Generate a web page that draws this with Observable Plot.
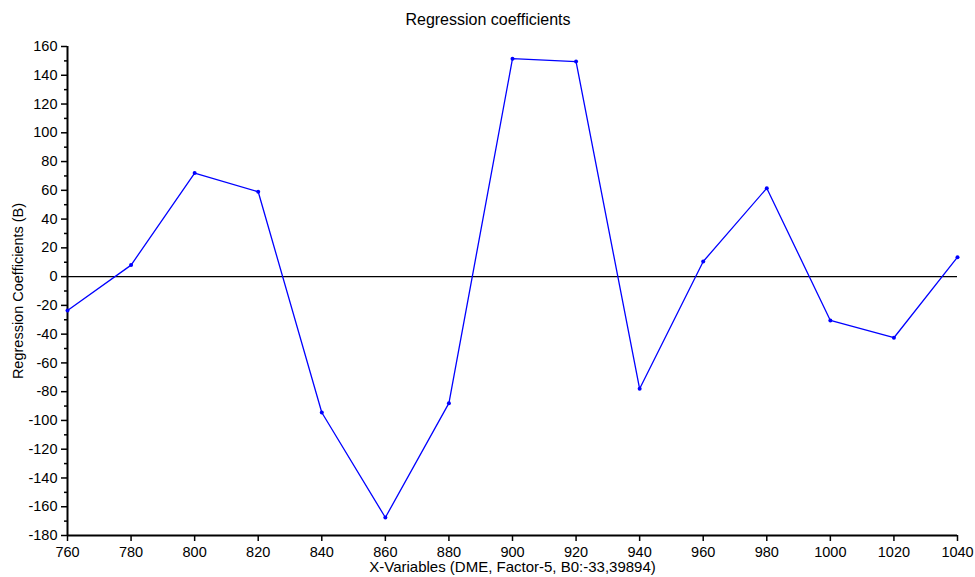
<!DOCTYPE html>
<html>
<head>
<meta charset="utf-8">
<script src="https://cdn.jsdelivr.net/npm/d3@7"></script>
<script src="https://cdn.jsdelivr.net/npm/@observablehq/plot@0.6"></script>
<style>
  html, body { margin: 0; padding: 0; background: #fff; }
  #chart svg { display: block; }
</style>
</head>
<body>
<div id="chart"></div>
<script>
const titleText = "Regression coefficients";
const xLabel = "X-Variables (DME, Factor-5, B0:-33,39894)";
const yLabel = "Regression Coefficients (B)";

const wavelengths = [760, 780, 800, 820, 840, 860, 880, 900, 920, 940, 960, 980, 1000, 1020, 1040];
const coefficients = [-23.5, 8, 72, 59, -94.5, -167.5, -88, 151.5, 149.5, -78, 10.5, 61.5, -30.5, -42.5, 13.5];

const xTicks = [760, 780, 800, 820, 840, 860, 880, 900, 920, 940, 960, 980, 1000, 1020, 1040];
const yTicks = [-180, -160, -140, -120, -100, -80, -60, -40, -20, 0, 20, 40, 60, 80, 100, 120, 140, 160];
const yMinorTicks = [-170, -150, -130, -110, -90, -70, -50, -30, -10, 10, 30, 50, 70, 90, 110, 130, 150];

const data = wavelengths.map((x, i) => ({x, y: coefficients[i]}));

const font = "Liberation Sans, Arial, sans-serif";
const fmt = d => String(d);

const chart = Plot.plot({
  width: 975,
  height: 577,
  marginLeft: 67,
  marginRight: 18,
  marginTop: 46,
  marginBottom: 42,
  style: {fontFamily: font, fontSize: "14.5px", color: "#000", background: "#fff"},
  x: {domain: [760, 1040], label: null},
  y: {domain: [-180, 160], label: null},
  marks: [
    Plot.axisY(yMinorTicks, {tickSize: 3, tickFormat: () => "", strokeWidth: 1.5}),
    Plot.axisY(yTicks, {tickSize: 6, tickPadding: 4, strokeWidth: 1.5, fontSize: 14.5, tickFormat: fmt}),
    Plot.axisX(xTicks, {tickSize: 6, tickPadding: 5, strokeWidth: 1.5, fontSize: 14.5, tickFormat: fmt}),
    Plot.ruleX([760], {stroke: "#000", strokeWidth: 2}),
    Plot.ruleY([-180], {stroke: "#000", strokeWidth: 2}),
    Plot.ruleY([0], {stroke: "#000", strokeWidth: 1.3}),
    Plot.line(data, {x: "x", y: "y", stroke: "#0000ff", strokeWidth: 1.3}),
    Plot.dot(data, {x: "x", y: "y", r: 2, fill: "#0000ff", stroke: null}),
    Plot.text([titleText], {frameAnchor: "top", lineAnchor: "middle", textAnchor: "middle", dx: -24.5, dy: -27, fontSize: 16, fill: "#000"}),
    Plot.text([xLabel], {frameAnchor: "bottom", lineAnchor: "middle", textAnchor: "middle", dy: 32, fontSize: 15, fill: "#000"}),
    Plot.text([yLabel], {frameAnchor: "left", lineAnchor: "middle", textAnchor: "middle", dx: -49, rotate: -90, fontSize: 14.5, fill: "#000"})
  ]
});
document.getElementById("chart").appendChild(chart);
</script>
</body>
</html>
